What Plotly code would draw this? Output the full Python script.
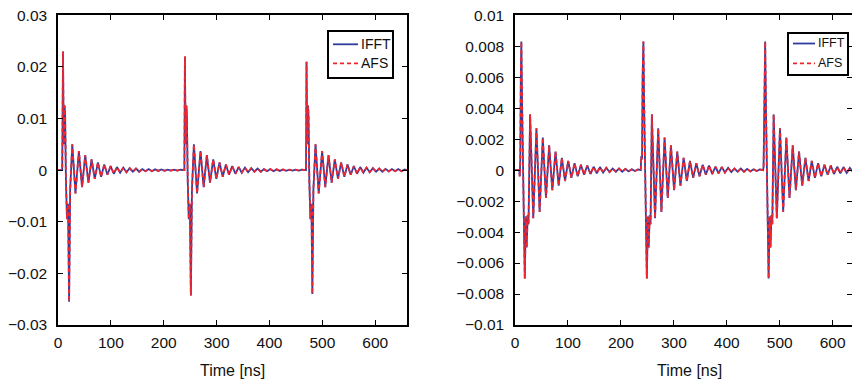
import plotly.graph_objects as go

# ---------------- data (time [ns], amplitude) ----------------
# Left panel: turning points of the waveform, pulse by pulse
left_pulse1 = [(0, 0), (8, 0), (9.5, 0.023), (10.8, 0.005), (12.5, 0.0125), (13.5, 0.0105),
               (15, -0.002), (17, -0.0095), (19, -0.0065), (21, -0.0255), (23, -0.0038),
               (27, 0.005), (33, -0.0045), (39.5, 0.0037), (45.5, -0.0033), (51.5, 0.0029),
               (57.5, -0.0024), (63.5, 0.0021), (69.5, -0.0017), (75.5, 0.0015), (81.5, -0.0013),
               (87.5, 0.0011), (93.5, -0.0009), (99.5, 0.0008), (105.5, -0.0007), (111.5, 0.0006),
               (117.5, -0.0005), (123.5, 0.0005), (129.5, -0.0004), (135.5, 0.0004), (141.5, -0.0003),
               (147.5, 0.0003), (153.5, -0.0003), (159.5, 0.0002), (165.5, -0.0002), (171.5, 0.0002),
               (177.5, -0.0002), (183.5, 0.00015), (189.5, -0.00015), (195.5, 0.00012), (201.5, -0.00012),
               (207.5, 0.0001), (213.5, -0.0001), (219.5, 0.0001), (225.5, -0.0001), (231.5, 0.00008),
               (238, 0)]
left_pulse2 = [(239, 0), (240, 0.022), (241.3, 0.005), (242.8, 0.0125), (243.8, 0.0105),
               (245.3, -0.002), (247.3, -0.0095), (249.3, -0.0065), (251.3, -0.0243), (253.3, -0.0038),
               (257, 0.005), (263, -0.0045), (269.5, 0.0037), (275.5, -0.0033), (281.5, 0.0029),
               (287.5, -0.0024), (293.5, 0.0021), (299.5, -0.0017), (305.5, 0.0015), (311.5, -0.0013),
               (317.5, 0.0011), (323.5, -0.0009), (329.5, 0.0008), (335.5, -0.0007), (341.5, 0.0006),
               (347.5, -0.0005), (353.5, 0.0005), (359.5, -0.0004), (365.5, 0.0004), (371.5, -0.0003),
               (377.5, 0.0003), (383.5, -0.0003), (389.5, 0.0002), (395.5, -0.0002), (401.5, 0.0002),
               (407.5, -0.0002), (413.5, 0.00015), (419.5, -0.00015), (425.5, 0.00012), (431.5, -0.00012),
               (437.5, 0.0001), (443.5, -0.0001), (449.5, 0.0001), (455.5, -0.0001), (461.5, 0.0001),
               (468, 0)]
left_pulse3 = [(469, 0), (470, 0.021), (471.3, 0.005), (472.8, 0.0125), (473.8, 0.0105),
               (475.3, -0.002), (477.3, -0.0095), (479.3, -0.0065), (481, -0.024), (483, -0.0038),
               (487, 0.005), (493, -0.0045), (499.5, 0.0037), (505.5, -0.0033), (511.5, 0.0029),
               (517.5, -0.0024), (523.5, 0.0021), (529.5, -0.0017), (535.5, 0.0015), (541.5, -0.0013),
               (547.5, 0.0011), (553.5, -0.0009), (559.5, 0.0008), (565.5, -0.0007), (571.5, 0.0006),
               (577.5, -0.0005), (583.5, 0.0005), (589.5, -0.0004), (595.5, 0.0004), (601.5, -0.0003),
               (607.5, 0.0003), (613.5, -0.0003), (619.5, 0.00025), (625.5, -0.00025), (631.5, 0.0002),
               (637.5, -0.0002), (643.5, 0.0002), (649.5, -0.0002), (655.5, 0.00015), (660, 0)]

# Right panel
right_pulse1 = [(0, 0), (8, 0), (9, -0.0004), (10, 0.0007), (11, 0.006), (12, 0.0083),
                (13.5, 0.004), (16, -0.002), (18.5, -0.007), (20.5, -0.003), (22, -0.005),
                (24, -0.0029), (25.5, -0.0035), (28.5, 0.0036), (34.5, -0.0031), (40.5, 0.0027),
                (46.5, -0.0027), (52.5, 0.0021), (58.5, -0.0018), (64.5, 0.0016), (70.5, -0.0013),
                (76.5, 0.0012), (82.5, -0.0010), (88.5, 0.0008), (94.5, -0.0007), (100.5, 0.0006),
                (106.5, -0.0005), (112.5, 0.00045), (118.5, -0.0004), (124.5, 0.00035), (130.5, -0.0003),
                (136.5, 0.0003), (142.5, -0.00025), (148.5, 0.00022), (154.5, -0.0002), (160.5, 0.0002),
                (166.5, -0.00015), (172.5, 0.00015), (178.5, -0.00012), (184.5, 0.0001), (190.5, -0.0001),
                (196.5, 0.0001), (202.5, -0.0001), (208.5, 0.00008), (214.5, -0.00008), (220.5, 0.00006),
                (226.5, -0.00006), (232.5, 0.00005), (237.5, 0)]
right_pulse2 = [(238.5, 0.0009), (240, 0.0007), (241, 0.006), (242.5, 0.0083), (244, 0.004),
                (246.5, -0.002), (249, -0.007), (251, -0.003), (252.5, -0.005), (254.5, -0.0029),
                (256, -0.0035), (258.5, 0.0036), (264.5, -0.0031), (270.5, 0.0027), (276.5, -0.0027),
                (282.5, 0.0021), (288.5, -0.0018), (294.5, 0.0016), (300.5, -0.0013), (306.5, 0.0012),
                (312.5, -0.0010), (318.5, 0.0008), (324.5, -0.0007), (330.5, 0.0006), (336.5, -0.0005),
                (342.5, 0.00045), (348.5, -0.0004), (354.5, 0.00035), (360.5, -0.0003), (366.5, 0.0003),
                (372.5, -0.00025), (378.5, 0.00022), (384.5, -0.0002), (390.5, 0.0002), (396.5, -0.00015),
                (402.5, 0.00015), (408.5, -0.00012), (414.5, 0.0001), (420.5, -0.0001), (426.5, 0.0001),
                (432.5, -0.0001), (438.5, 0.00008), (444.5, -0.00008), (450.5, 0.00006), (456.5, -0.00006),
                (462.5, 0.00005), (468.5, 0)]
right_pulse3 = [(469.5, 0.0002), (471, 0.006), (472.5, 0.0083), (474, 0.004), (476.5, -0.002),
                (479, -0.007), (481, -0.003), (482.5, -0.005), (484.5, -0.0029), (486, -0.0035),
                (488.5, 0.0036), (494.5, -0.0031), (500.5, 0.0027), (506.5, -0.0027), (512.5, 0.0021),
                (518.5, -0.0018), (524.5, 0.0016), (530.5, -0.0013), (536.5, 0.0012), (542.5, -0.0010),
                (548.5, 0.0008), (554.5, -0.0007), (560.5, 0.0006), (566.5, -0.0005), (572.5, 0.00045),
                (578.5, -0.0004), (584.5, 0.00035), (590.5, -0.0003), (596.5, 0.0003), (602.5, -0.00025),
                (608.5, 0.00022), (614.5, -0.0002), (620.5, 0.0002), (626.5, -0.00018), (632.5, 0.00015),
                (638.5, -0.00012), (644.5, 0.0001), (650.5, -0.0001), (656.5, 0.0001), (660, 0)]

series_names = ["IFFT", "AFS"]
x_tick_vals = [0, 100, 200, 300, 400, 500, 600]
left_y_ticks = [-0.03, -0.02, -0.01, 0, 0.01, 0.02, 0.03]
left_y_labels = ["\u22120.03", "\u22120.02", "\u22120.01", "0", "0.01", "0.02", "0.03"]
right_y_ticks = [-0.01, -0.008, -0.006, -0.004, -0.002, 0, 0.002, 0.004, 0.006, 0.008, 0.01]
right_y_labels = ["\u22120.01", "\u22120.008", "\u22120.006", "\u22120.004", "\u22120.002", "0",
                  "0.002", "0.004", "0.006", "0.008", "0.01"]
x_title = "Time [ns]"

# The AFS curve lies on top of the IFFT curve everywhere in the picture
left_ifft = left_pulse1 + left_pulse2 + left_pulse3
right_ifft = right_pulse1 + right_pulse2 + right_pulse3
left_afs = list(left_ifft)
right_afs = list(right_ifft)

BLUE = "#2f3c9e"
RED = "#f0262f"
DASH = "4px,3px"
FONT = "Liberation Sans, Arial, Helvetica, sans-serif"
W, H = 852, 382

def unzip(pairs):
    return [p[0] for p in pairs], [p[1] for p in pairs]

fig = go.Figure()
for (ifft, afs, xa, ya) in [(left_ifft, left_afs, "x", "y"),
                            (right_ifft, right_afs, "x2", "y2")]:
    t, v = unzip(ifft)
    fig.add_trace(go.Scatter(x=t, y=v, mode="lines", name=series_names[0], showlegend=False,
                             line=dict(color=BLUE, width=1.8), xaxis=xa, yaxis=ya))
    t, v = unzip(afs)
    fig.add_trace(go.Scatter(x=t, y=v, mode="lines", name=series_names[1], showlegend=False,
                             line=dict(color=RED, width=1.8, dash=DASH), xaxis=xa, yaxis=ya))

ax_common = dict(showline=True, linecolor="black", linewidth=1.5, mirror="ticks",
                 ticks="inside", ticklen=5, tickwidth=1, tickcolor="black",
                 showgrid=False, zeroline=False, automargin=False,
                 tickfont=dict(family=FONT, size=15.5, color="#111"))

y_top, y_bot = 1 - 15.3 / H, 1 - 325 / H

def px(x):
    return x / W

def py(y):
    return 1 - y / H

# Legend boxes drawn as a boxed key (pixel positions of the reference)
shapes = []
annotations = []
for (bx0, by0, bx1, by1, lx0, lx1, tx, rows, fs) in [
        (328, 31, 393, 78, 333, 358, 359, (44.3, 63.3), 14),
        (788, 33, 848, 75, 793, 815, 816, (43.5, 63.3), 12.5)]:
    shapes.append(dict(type="rect", xref="paper", yref="paper", x0=px(bx0), x1=px(bx1),
                       y0=py(by1), y1=py(by0), line=dict(color="black", width=2),
                       fillcolor="white", layer="above"))
    for name, yy, col, dash in [(series_names[0], rows[0], BLUE, "solid"),
                                (series_names[1], rows[1], RED, DASH)]:
        shapes.append(dict(type="line", xref="paper", yref="paper", x0=px(lx0), x1=px(lx1),
                           y0=py(yy), y1=py(yy), line=dict(color=col, width=1.8, dash=dash),
                           layer="above"))
        annotations.append(dict(text=name, x=px(tx), y=py(yy), xref="paper", yref="paper",
                                showarrow=False, xanchor="left", yanchor="middle",
                                font=dict(family=FONT, size=fs, color="#111")))

annotations += [
    dict(text=x_title, x=px(232), y=py(370), xref="paper", yref="paper",
         showarrow=False, xanchor="center", yanchor="middle",
         font=dict(family=FONT, size=16, color="#111")),
    dict(text=x_title, x=px(689), y=py(370), xref="paper", yref="paper",
         showarrow=False, xanchor="center", yanchor="middle",
         font=dict(family=FONT, size=16, color="#111")),
]

fig.update_layout(
    width=W, height=H, margin=dict(l=0, r=0, t=0, b=0),
    paper_bgcolor="white", plot_bgcolor="white", showlegend=False,
    xaxis=dict(domain=[px(58), px(407)], range=[0, 660], tickvals=x_tick_vals,
               ticklabelstandoff=3, anchor="y", **ax_common),
    yaxis=dict(domain=[y_bot, y_top], range=[-0.03, 0.03], tickvals=left_y_ticks,
               ticktext=left_y_labels, ticklabelstandoff=6, anchor="x", **ax_common),
    xaxis2=dict(domain=[px(515), 1.0], range=[0, 636.5], tickvals=x_tick_vals,
                ticklabelstandoff=3, anchor="y2", **ax_common),
    yaxis2=dict(domain=[y_bot, y_top], range=[-0.01, 0.01], tickvals=right_y_ticks,
                ticktext=right_y_labels, ticklabelstandoff=6, anchor="x2", **ax_common),
    shapes=shapes,
    annotations=annotations,
)

fig.write_html("out.html")
